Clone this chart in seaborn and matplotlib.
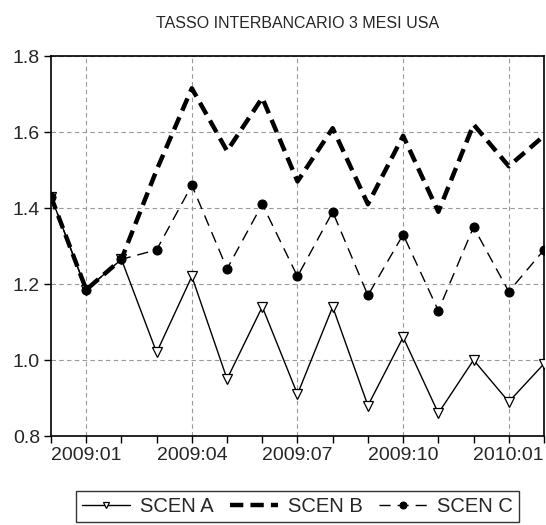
import numpy as np
import pandas as pd
import matplotlib
matplotlib.use("Agg")
import matplotlib.pyplot as plt
import seaborn as sns

months = ["2008:12", "2009:01", "2009:02", "2009:03", "2009:04", "2009:05", "2009:06",
          "2009:07", "2009:08", "2009:09", "2009:10", "2009:11", "2009:12", "2010:01", "2010:02"]
scen_a = [1.43, 1.185, 1.265, 1.02, 1.22, 0.95, 1.14, 0.91, 1.14, 0.88, 1.06, 0.86, 1.00, 0.89, 0.99]
scen_b = [1.43, 1.185, 1.265, 1.50, 1.715, 1.55, 1.69, 1.47, 1.61, 1.41, 1.59, 1.39, 1.62, 1.51, 1.59]
scen_c = [1.43, 1.185, 1.265, 1.29, 1.46, 1.24, 1.41, 1.22, 1.39, 1.17, 1.33, 1.13, 1.35, 1.18, 1.29]
y_ticks = [0.8, 1.0, 1.2, 1.4, 1.6, 1.8]
x_label_months = ["2009:01", "2009:04", "2009:07", "2009:10", "2010:01"]

sns.set_theme(style="ticks")
plt.rcParams["font.family"] = ["Liberation Sans", "DejaVu Sans"]

df = pd.DataFrame({"t": np.arange(len(months)), "A": scen_a, "B": scen_b, "C": scen_c})

fig = plt.figure(figsize=(5.46, 5.25), dpi=100)
ax = fig.add_axes([0.0934, 0.1695, 0.9029, 0.7238])

sns.lineplot(data=df, x="t", y="A", ax=ax, color="black", lw=1.0,
             marker="v", markersize=7, markerfacecolor="white",
             markeredgecolor="black", markeredgewidth=0.9, label="SCEN A", zorder=3)
sns.lineplot(data=df, x="t", y="B", ax=ax, color="black", lw=3.2,
             dashes=False, label="SCEN B", zorder=4)
ax.lines[-1].set_dashes([3.0, 1.6])
sns.lineplot(data=df, x="t", y="C", ax=ax, color="black", lw=1.0,
             marker="o", markersize=6.5, markeredgecolor="black", label="SCEN C", zorder=3)
ax.lines[-1].set_dashes([8, 5])

ax.set_xlim(0, len(months) - 1)
ax.set_ylim(0.8, 1.8)
ax.set_yticks(y_ticks)
ax.set_yticklabels([f"{v:.1f}" for v in y_ticks])
major = [months.index(m) for m in x_label_months]
ax.set_xticks(major)
ax.set_xticklabels(x_label_months)
ax.set_xticks(np.arange(len(months)), minor=True)
ax.tick_params(axis="both", which="major", labelsize=14, length=5, width=1, color="black", pad=3)
ax.tick_params(axis="x", which="minor", length=5, width=1, color="black")
ax.set_xlabel("")
ax.set_ylabel("")
ax.grid(True, which="major", linestyle=(0, (4, 3)), color="#999999", lw=0.8)
for s in ax.spines.values():
    s.set_color("black")
    s.set_linewidth(1.2)

ax.set_title("TASSO INTERBANCARIO 3 MESI USA", fontsize=11.5, pad=20)

leg = ax.legend(loc="upper center", bbox_to_anchor=(0.5, -0.145), ncol=3, frameon=True,
                fontsize=14.5, fancybox=False, edgecolor="black", handlelength=2.4,
                handletextpad=0.5, columnspacing=0.8, borderpad=0.3, borderaxespad=0)
leg.get_frame().set_linewidth(1.0)
for h in leg.legend_handles:
    h.set_markersize(5)

fig.savefig("out.png", dpi=100)
